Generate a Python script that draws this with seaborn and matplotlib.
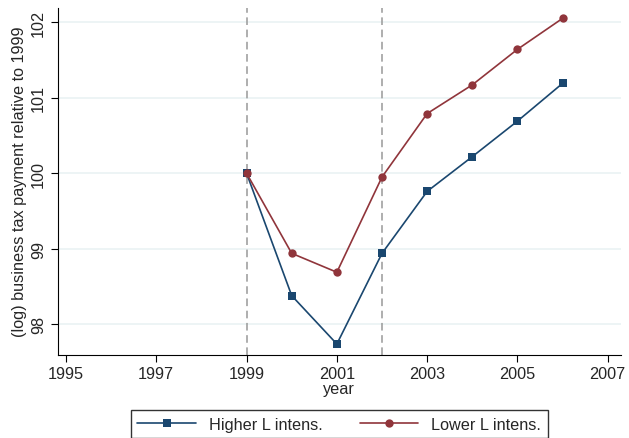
import pandas as pd
import matplotlib.pyplot as plt
import seaborn as sns

years = [1999, 2000, 2001, 2002, 2003, 2004, 2005, 2006]
higher = [100.0, 98.38, 97.74, 98.94, 99.76, 100.22, 100.69, 101.19]
lower = [100.0, 98.94, 98.69, 99.95, 100.79, 101.17, 101.64, 102.05]
xticks = [1995, 1997, 1999, 2001, 2003, 2005, 2007]
yticks = [98, 99, 100, 101, 102]
event_years = [1999, 2002]

df = pd.DataFrame({
    'year': years * 2,
    'value': higher + lower,
    'group': ['Higher L intens.'] * len(years) + ['Lower L intens.'] * len(years),
})

sns.set_style('white')
plt.rcParams['font.family'] = ['Liberation Sans', 'DejaVu Sans']
fs = 11.7

fig = plt.figure(figsize=(6.29, 4.39), dpi=100)
ax = fig.add_axes([0.092, 0.19, 0.895, 0.79])

for yt in yticks:
    ax.axhline(yt, color='#eaf2f3', lw=1.2, zorder=0)
for ev in event_years:
    ax.axvline(ev, color='#999999', lw=1.1, ls=(0, (5, 3)), zorder=1)

sns.lineplot(data=df, x='year', y='value', hue='group', style='group',
             palette=['#1a476f', '#90353b'], markers=['s', 'o'], dashes=False,
             markersize=6, markeredgewidth=0, lw=1.2, ax=ax, zorder=3)

ax.set_xlim(1994.82, 2007.29)
ax.set_ylim(97.6, 102.19)
ax.set_xticks(xticks)
ax.set_yticks(yticks)
ax.set_yticklabels([str(t) for t in yticks], rotation=90, va='center')
ax.tick_params(axis='both', direction='out', length=5, width=0.8, labelsize=fs, color='black', bottom=True, left=True)
ax.set_xlabel('year', fontsize=fs, labelpad=0)
ax.set_ylabel('(log) business tax payment relative to 1999', fontsize=fs, labelpad=3)

for side in ['top', 'right']:
    ax.spines[side].set_visible(False)
for side in ['left', 'bottom']:
    ax.spines[side].set_color('black')
    ax.spines[side].set_linewidth(0.8)

handles, labels = ax.get_legend_handles_labels()
ax.legend(handles, labels, loc='upper center', bbox_to_anchor=(0.5, -0.16), ncol=2,
          frameon=True, fancybox=False, edgecolor='black', fontsize=fs,
          handlelength=3.6, columnspacing=2.3, borderpad=0.4, borderaxespad=0)

fig.savefig('out.png', dpi=100)
